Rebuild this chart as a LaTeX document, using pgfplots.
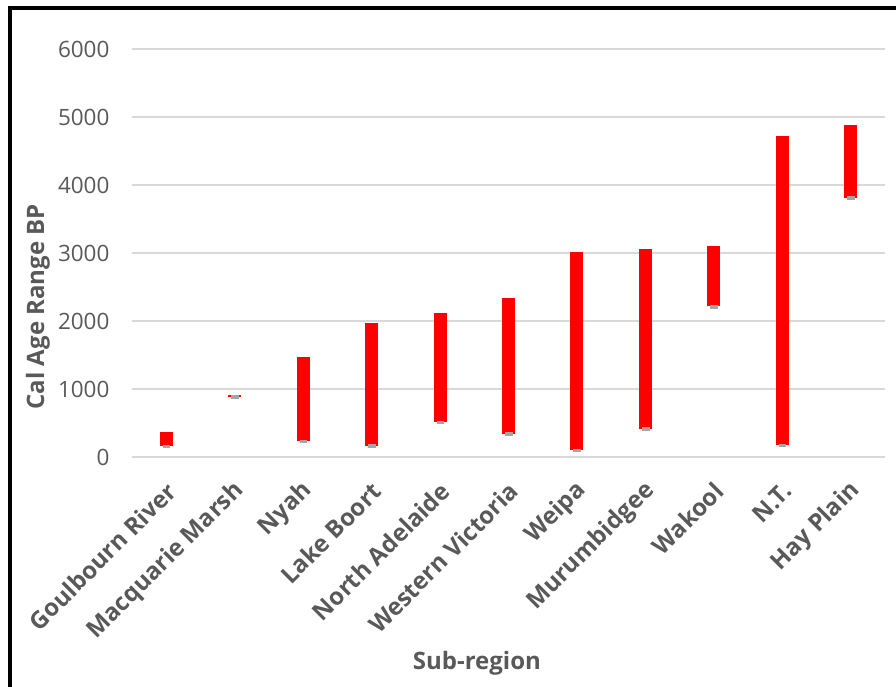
\documentclass[border=0pt]{standalone}
\usepackage{pgfplots}
\usepackage{pgfplotstable}
\pgfplotsset{compat=1.18}
\usepackage{fontspec}
\setmainfont{Open Sans}

\definecolor{txtgray}{HTML}{595959}
\definecolor{gridgray}{HTML}{D9D9D9}
\definecolor{lowmark}{HTML}{A5A5A5}

% calibrated age ranges (cal BP) per sub-region
\pgfplotstableread{
x low high
0 160 365
1 885 910
2 230 1466
3 167 1975
4 510 2113
5 338 2345
6 98 3012
7 412 3058
8 2215 3105
9 176 4720
10 3815 4885
}\ranges

\begin{document}
\begin{tikzpicture}
\useasboundingbox (-132pt,-230pt) rectangle (764pt,457pt);
\draw[line width=3.5pt, black] (-122pt,-235pt) -- (-122pt,449pt) -- (770pt,449pt);
\begin{axis}[
  scale only axis,
  width=753pt, height=408pt,
  xmin=-0.5, xmax=10.5,
  ymin=0, ymax=6000,
  ytick={0,1000,...,6000},
  xtick=data,
  xticklabels={Goulbourn River, Macquarie Marsh, Nyah, Lake Boort, North Adelaide, Western Victoria, Weipa, Murumbidgee, Wakool, N.T., Hay Plain},
  axis line style={draw=none},
  major tick length=0pt,
  ymajorgrids,
  grid style={gridgray, line width=1.3pt},
  /pgf/number format/assume math mode=true,
  /pgf/number format/1000 sep={},
  yticklabel style={font=\fontsize{22.5}{25}\selectfont, text=txtgray, xshift=-19pt},
  xticklabel style={font=\bfseries\fontsize{24}{27}\selectfont, text=txtgray, rotate=45, anchor=east, xshift=-14pt, yshift=-25pt},
  ylabel={Cal Age Range BP},
  ylabel style={font=\bfseries\fontsize{24}{28}\selectfont, text=txtgray, at={(axis description cs:0,0.368)}, anchor=center, yshift=94pt},
  xlabel={Sub-region},
  xlabel style={font=\bfseries\fontsize{24}{28}\selectfont, text=txtgray, at={(axis description cs:0.458,0)}, anchor=center, yshift=-206pt},
]
% floating range bars from low to high
\addplot[draw=none, mark=none,
  error bars/.cd, y dir=plus, y explicit,
  error mark=none,
  error bar style={draw=red, line width=13pt}]
  table[x=x, y=low, y error expr=\thisrow{high}-\thisrow{low}] {\ranges};
% lower bound markers
\addplot[lowmark, only marks, mark=square*,
  mark options={fill=lowmark, draw=lowmark, xscale=1.5, yscale=0.6},
  mark size=2.2pt]
  table[x=x, y=low] {\ranges};
\end{axis}
\end{tikzpicture}
\end{document}
